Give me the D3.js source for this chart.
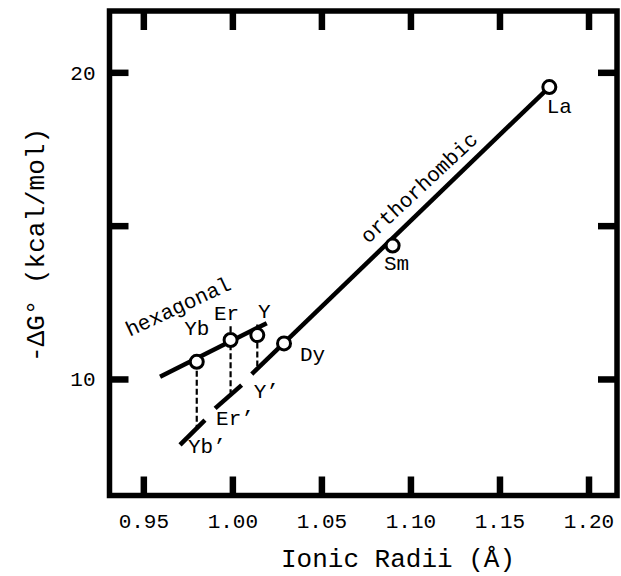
<!DOCTYPE html>
<html>
<head>
<meta charset="utf-8">
<script src="https://cdn.jsdelivr.net/npm/d3@7"></script>
<style>
  body { margin: 0; background: #fff; }
  text { font-family: "Liberation Mono", "DejaVu Sans Mono", monospace; fill: #000; }
</style>
</head>
<body>
<svg id="chart" width="621" height="576"></svg>
<script>
// points (hexagonal: Yb, Er, Y ; orthorhombic: Dy, Sm, La)
var elements = ["Yb", "Er", "Y", "Dy", "Sm", "La"];
var radii = [0.980, 0.999, 1.014, 1.029, 1.090, 1.178];
var dG = [10.56, 11.27, 11.43, 11.16, 14.35, 19.52];

// dashed drops from hexagonal points to the primed lines
var dropNames = ["Yb", "Er", "Y"];
var dropTo = [8.42, 9.55, 10.42];
var dropAbove = [0, 0.45, 0.35];

// fitted lines
var hexX = [0.9594, 1.0193];
var hexY = [10.07, 11.82];
var orthoX = [1.0109, 1.178];
var orthoY = [10.16, 19.52];
var ybPrimeX = [0.9706, 0.9846];
var ybPrimeY = [7.85, 8.66];
var erPrimeX = [0.9903, 1.0052];
var erPrimeY = [9.04, 9.80];

var xTicks = [0.95, 1.00, 1.05, 1.10, 1.15, 1.20];
var yTicks = [10, 15, 20];
var yTickLabels = ["10", "", "20"];

var frameL = 109.5, frameR = 617, frameT = 11, frameB = 495.5;

var x = d3.scaleLinear().domain([0.931, 1.216]).range([frameL, frameR]);
var y = d3.scaleLinear().domain([6.2, 22.0]).range([frameB, frameT]);

var svg = d3.select("#chart");

// axes, ticks pointing inward
var tickLen = 19;
var gx = svg.append("g").attr("transform", "translate(0," + frameB + ")")
  .call(d3.axisBottom(x).tickValues(xTicks).tickSize(-tickLen).tickPadding(18).tickFormat(d3.format(".2f")));
var gxTop = svg.append("g").attr("transform", "translate(0," + frameT + ")")
  .call(d3.axisTop(x).tickValues(xTicks).tickSize(-tickLen).tickFormat(""));
var gy = svg.append("g").attr("transform", "translate(" + frameL + ",0)")
  .call(d3.axisLeft(y).tickValues(yTicks).tickSize(-tickLen).tickPadding(14)
    .tickFormat(function(d, i) { return yTickLabels[i]; }));
var gyRight = svg.append("g").attr("transform", "translate(" + frameR + ",0)")
  .call(d3.axisRight(y).tickValues(yTicks).tickSize(-tickLen).tickFormat(""));

[gx, gxTop, gy, gyRight].forEach(function(g) {
  g.select(".domain").remove();
  g.selectAll(".tick line").attr("stroke", "#000").attr("stroke-width", 6.5);
  g.selectAll(".tick text").style("font-family", "Liberation Mono").style("font-size", "21px").attr("fill", "#000");
});

svg.append("rect")
  .attr("x", frameL).attr("y", frameT)
  .attr("width", frameR - frameL).attr("height", frameB - frameT)
  .attr("fill", "none").attr("stroke", "#000").attr("stroke-width", 5.5);

// axis titles
svg.append("text")
  .attr("x", 398).attr("y", 567)
  .attr("text-anchor", "middle")
  .style("font-size", "26px")
  .text("Ionic Radii (Å)");

svg.append("text")
  .attr("transform", "translate(44,245) rotate(-90)")
  .attr("text-anchor", "middle")
  .style("font-size", "26px")
  .text("-ΔG° (kcal/mol)");

var line = d3.line()
  .x(function(d) { return x(d[0]); })
  .y(function(d) { return y(d[1]); });

function segment(xs, ys) {
  svg.append("path")
    .datum(d3.zip(xs, ys))
    .attr("d", line)
    .attr("fill", "none")
    .attr("stroke", "#000")
    .attr("stroke-width", 4.5);
}

// dashed drops
dropNames.forEach(function(name, i) {
  var k = elements.indexOf(name);
  svg.append("line")
    .attr("x1", x(radii[k])).attr("x2", x(radii[k]))
    .attr("y1", y(dG[k] + dropAbove[i])).attr("y2", y(dropTo[i]))
    .attr("stroke", "#000")
    .attr("stroke-width", 2.2)
    .attr("stroke-dasharray", "6,3");
});

segment(hexX, hexY);
segment(orthoX, orthoY);
segment(ybPrimeX, ybPrimeY);
segment(erPrimeX, erPrimeY);

// open circles
svg.selectAll("circle.pt")
  .data(elements)
  .enter()
  .append("circle")
  .attr("class", "pt")
  .attr("cx", function(d, i) { return x(radii[i]); })
  .attr("cy", function(d, i) { return y(dG[i]); })
  .attr("r", 6.5)
  .attr("fill", "#fff")
  .attr("stroke", "#000")
  .attr("stroke-width", 3);

// point labels
var labelOffset = {
  Yb: [0, -27, "middle"],
  Er: [-4, -20, "middle"],
  Y:  [7, -17, "middle"],
  Dy: [16, 18, "start"],
  Sm: [4, 24, "middle"],
  La: [10, 26, "middle"]
};
svg.selectAll("text.pt")
  .data(elements)
  .enter()
  .append("text")
  .attr("class", "pt")
  .attr("x", function(d, i) { return x(radii[i]) + labelOffset[d][0]; })
  .attr("y", function(d, i) { return y(dG[i]) + labelOffset[d][1]; })
  .attr("text-anchor", function(d) { return labelOffset[d][2]; })
  .style("font-size", "21px")
  .text(function(d) { return d; });

// primed labels
svg.append("text")
  .attr("x", x(orthoX[0]) + 2).attr("y", y(orthoY[0]) + 24)
  .style("font-size", "21px").text("Y’");
svg.append("text")
  .attr("x", x(erPrimeX[0]) + 1).attr("y", y(erPrimeY[0]) + 17)
  .style("font-size", "21px").text("Er’");
svg.append("text")
  .attr("x", x(ybPrimeX[0]) + 8).attr("y", y(ybPrimeY[0]) + 8)
  .style("font-size", "21px").text("Yb’");

// phase labels along the lines
svg.append("text")
  .attr("transform", "translate(" + (x(hexX[0]) + 21) + "," + (y(hexY[0]) - 64) + ") rotate(-25)")
  .attr("text-anchor", "middle")
  .style("font-size", "21px")
  .text("hexagonal");

var sm = elements.indexOf("Sm");
svg.append("text")
  .attr("transform", "translate(" + (x(radii[sm]) + 31) + "," + (y(dG[sm]) - 53) + ") rotate(-43)")
  .attr("text-anchor", "middle")
  .style("font-size", "21px")
  .text("orthorhombic");
</script>
</body>
</html>
